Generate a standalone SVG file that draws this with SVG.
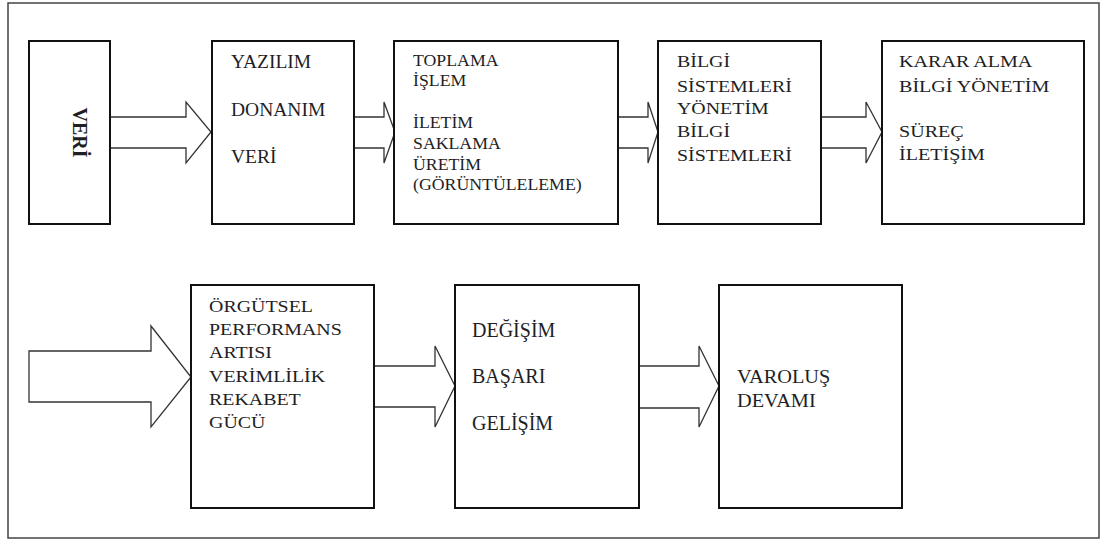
<svg xmlns="http://www.w3.org/2000/svg" width="1105" height="540" viewBox="0 0 1105 540">
<style>
.frame{fill:#fff;stroke:#444;stroke-width:1.5}
.box{fill:#fff;stroke:#111;stroke-width:2}
.arr{fill:#fff;stroke:#333;stroke-width:1.3;stroke-linejoin:miter}
.t{font-family:"Liberation Serif","Times New Roman",serif;fill:#1e1e24}
</style>
<rect class="frame" x="8" y="3" width="1091" height="535"/>
<g id="connectors">
<path class="arr" d="M110,117 H186 V102 L211,132 L186,163 V148 H110"/>
<path class="arr" d="M354,117 H384 V102 L395,132 L384,163 V148 H354"/>
<path class="arr" d="M618,117 H648 V102 L658,132 L648,163 V148 H618"/>
<path class="arr" d="M821,117 H866 V102 L882,132 L866,163 V148 H821"/>
<path class="arr" d="M29,351 H151 V326 L191,377 L151,427 V402 H29 Z"/>
<path class="arr" d="M374,366 H435 V346 L455,386 L435,427 V407 H374"/>
<path class="arr" d="M639,366 H699 V346 L719,386 L699,427 V408 H639"/>
</g>
<g id="node-veri">
<rect class="box" x="29" y="41" width="81" height="183"/>
<text class="t" transform="translate(72.5,132.5) rotate(90)" x="0" y="0" text-anchor="middle" font-size="20" font-weight="bold">VERİ</text>
</g>
<g id="node-yazilim">
<rect class="box" x="212" y="41" width="142" height="183"/>
<g class="t" font-size="19.5">
<text x="231" y="68">YAZILIM</text>
<text x="231" y="116">DONANIM</text>
<text x="231" y="163">VERİ</text>
</g>
</g>
<g id="node-toplama">
<rect class="box" x="394" y="41" width="224" height="183"/>
<g class="t" font-size="16.6" transform="translate(413,0) scale(1.07,1)">
<text x="0" y="66">TOPLAMA</text>
<text x="0" y="86">İŞLEM</text>
<text x="0" y="128">İLETİM</text>
<text x="0" y="149">SAKLAMA</text>
<text x="0" y="170">ÜRETİM</text>
<text x="0" y="190">(GÖRÜNTÜLELEME)</text>
</g>
</g>
<g id="node-bilgi">
<rect class="box" x="658" y="41" width="163" height="183"/>
<g class="t" font-size="17" transform="translate(677,0) scale(1.17,1)">
<text x="0" y="67">BİLGİ</text>
<text x="0" y="92">SİSTEMLERİ</text>
<text x="0" y="114">YÖNETİM</text>
<text x="0" y="137">BİLGİ</text>
<text x="0" y="161">SİSTEMLERİ</text>
</g>
</g>
<g id="node-karar">
<rect class="box" x="882" y="41" width="202" height="183"/>
<g class="t" font-size="16.2" transform="translate(899,0) scale(1.24,1)">
<text x="0" y="67">KARAR ALMA</text>
<text x="0" y="92">BİLGİ YÖNETİM</text>
<text x="0" y="137">SÜREÇ</text>
<text x="0" y="160">İLETİŞİM</text>
</g>
</g>
<g id="node-orgutsel">
<rect class="box" x="191" y="285" width="183" height="223"/>
<g class="t" font-size="16.2" transform="translate(209,0) scale(1.23,1)">
<text x="0" y="312">ÖRGÜTSEL</text>
<text x="0" y="335">PERFORMANS</text>
<text x="0" y="358">ARTISI</text>
<text x="0" y="382">VERİMLİLİK</text>
<text x="0" y="405">REKABET</text>
<text x="0" y="428">GÜCÜ</text>
</g>
</g>
<g id="node-degisim">
<rect class="box" x="455" y="285" width="184" height="223"/>
<g class="t" font-size="20">
<text x="472" y="337">DEĞİŞİM</text>
<text x="472" y="383">BAŞARI</text>
<text x="472" y="430">GELİŞİM</text>
</g>
</g>
<g id="node-varolus">
<rect class="box" x="719" y="285" width="183" height="223"/>
<g class="t" font-size="18" transform="translate(737,0) scale(1.13,1)">
<text x="0" y="383">VAROLUŞ</text>
<text x="0" y="407">DEVAMI</text>
</g>
</g>
</svg>
